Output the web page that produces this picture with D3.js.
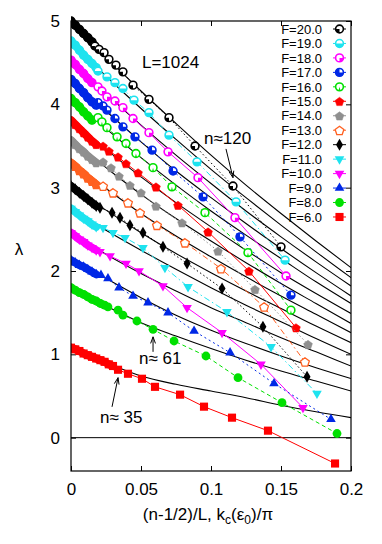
<!DOCTYPE html>
<html>
<head>
<meta charset="utf-8">
<script src="https://cdn.jsdelivr.net/npm/d3@7"></script>
<style>
body { margin: 0; background: #fff; }
svg { display: block; font-family: "Liberation Sans", Arial, sans-serif; }
</style>
</head>
<body>
<svg id="chart" width="382" height="544"></svg>
<script>
// series labels, top to bottom as in the key
const labels = ["F=20.0", "F=19.0", "F=18.0", "F=17.0", "F=16.0", "F=15.0", "F=14.0",
                "F=13.0", "F=12.0", "F=11.0", "F=10.0", "F=9.0", "F=8.0", "F=6.0"];

// dense small-n part of every series (lambda at denseX)
const denseX = [0, 0.003, 0.006, 0.009, 0.012, 0.015, 0.018, 0.021, 0.024, 0.027, 0.030];
const denseLambda = [
  [5.00, 4.95, 4.90, 4.85, 4.80, 4.75],
  [4.76, 4.71, 4.65, 4.59, 4.54, 4.49, 4.44],
  [4.53, 4.48, 4.42, 4.37, 4.31, 4.26],
  [4.30, 4.25, 4.19, 4.14, 4.08, 4.03, 3.99],
  [4.07, 4.02, 3.97, 3.91, 3.86, 3.81],
  [3.81, 3.76, 3.71, 3.66, 3.61, 3.56, 3.52],
  [3.57, 3.52, 3.47, 3.43, 3.38, 3.34, 3.30],
  [3.30, 3.26, 3.21, 3.17, 3.12, 3.08, 3.04],
  [3.02, 2.98, 2.94, 2.90, 2.86, 2.82, 2.78],
  [2.75, 2.71, 2.67, 2.63, 2.60, 2.56, 2.53],
  [2.46, 2.42, 2.38, 2.35, 2.31, 2.28, 2.25],
  [2.13, 2.10, 2.07, 2.05, 2.02, 1.99, 1.96],
  [1.80, 1.77, 1.74, 1.72, 1.69, 1.66, 1.64, 1.61, 1.59],
  [1.08, 1.06, 1.04, 1.01, 0.99, 0.97, 0.95, 0.93, 0.91, 0.88, 0.86]
];

// sparse points further out
const sparseX = [
  [0.0171, 0.020, 0.0236, 0.0271, 0.0321, 0.0371, 0.0443, 0.0557, 0.070, 0.0886, 0.1157, 0.150],
  [0.0193, 0.0257, 0.0314, 0.0371, 0.045, 0.0557, 0.070, 0.090, 0.1179, 0.1529],
  [0.0193, 0.0221, 0.0257, 0.0314, 0.0371, 0.0443, 0.0557, 0.0693, 0.0907, 0.1171, 0.1536],
  [0.0193, 0.0229, 0.0257, 0.0314, 0.0371, 0.0457, 0.0579, 0.0729, 0.0943, 0.1207, 0.1571],
  [0.0193, 0.0221, 0.0257, 0.0329, 0.0393, 0.0464, 0.0586, 0.0721, 0.0957, 0.1264, 0.1571],
  [0.0229, 0.0271, 0.0336, 0.0393, 0.0479, 0.0607, 0.0764, 0.0979, 0.1271, 0.1607],
  [0.0229, 0.0286, 0.0343, 0.0421, 0.050, 0.0607, 0.0793, 0.105, 0.1314, 0.1693],
  [0.0229, 0.030, 0.0407, 0.0493, 0.0614, 0.0814, 0.1071, 0.1379, 0.1671],
  [0.0207, 0.0293, 0.035, 0.0421, 0.0514, 0.0657, 0.0829, 0.1079, 0.1371, 0.1686],
  [0.0229, 0.030, 0.0386, 0.0514, 0.0671, 0.0836, 0.1114, 0.1429, 0.1757],
  [0.0207, 0.0279, 0.0393, 0.0486, 0.0657, 0.0829, 0.1079, 0.1357, 0.1657],
  [0.0214, 0.0264, 0.0343, 0.0443, 0.055, 0.0693, 0.0879, 0.1136, 0.145, 0.1857],
  [0.0264, 0.0336, 0.0371, 0.0471, 0.0586, 0.0736, 0.0964, 0.1193, 0.1507, 0.19],
  [0.0336, 0.0407, 0.0507, 0.060, 0.0779, 0.095, 0.115, 0.1407, 0.1886]
];
const sparseLambda = [
  [4.70, 4.66, 4.62, 4.54, 4.47, 4.39, 4.23, 4.06, 3.84, 3.50, 3.02, 2.29],
  [4.40, 4.33, 4.26, 4.19, 4.05, 3.90, 3.63, 3.31, 2.83, 2.13],
  [4.21, 4.16, 4.09, 4.04, 3.96, 3.83, 3.66, 3.43, 3.12, 2.64, 1.94],
  [4.02, 3.98, 3.93, 3.83, 3.73, 3.61, 3.45, 3.20, 2.89, 2.41, 1.71],
  [3.84, 3.79, 3.72, 3.61, 3.53, 3.41, 3.24, 3.01, 2.70, 2.22, 1.53],
  [3.50, 3.44, 3.37, 3.29, 3.18, 3.01, 2.79, 2.47, 2.00, 1.32],
  [3.31, 3.24, 3.14, 3.03, 2.94, 2.78, 2.58, 2.24, 1.78, 1.12],
  [3.02, 2.94, 2.82, 2.70, 2.55, 2.34, 2.03, 1.57, 0.91],
  [2.76, 2.70, 2.64, 2.55, 2.46, 2.29, 2.09, 1.79, 1.33, 0.73],
  [2.52, 2.46, 2.40, 2.28, 2.04, 1.81, 1.51, 1.09, 0.53],
  [2.23, 2.18, 2.09, 2.00, 1.82, 1.56, 1.26, 0.88, 0.36],
  [1.95, 1.91, 1.80, 1.70, 1.62, 1.50, 1.28, 1.02, 0.65, 0.22],
  [1.57, 1.53, 1.47, 1.40, 1.30, 1.16, 0.98, 0.72, 0.42, 0.05],
  [0.815, 0.767, 0.707, 0.61, 0.516, 0.372, 0.24, 0.084, -0.31]
];

// black theory curves
const theoryX = [0, 0.025, 0.05, 0.075, 0.1, 0.125, 0.15, 0.175, 0.2];
const theoryLambda = [
  [5.00, 4.57, 4.16, 3.77, 3.39, 3.03, 2.69, 2.36, 2.04],
  [4.76, 4.34, 3.95, 3.58, 3.22, 2.88, 2.55, 2.23, 1.92],
  [4.53, 4.13, 3.75, 3.39, 3.05, 2.72, 2.41, 2.11, 1.82],
  [4.30, 3.92, 3.55, 3.20, 2.88, 2.57, 2.27, 1.98, 1.70],
  [4.07, 3.71, 3.36, 3.03, 2.72, 2.43, 2.15, 1.87, 1.61],
  [3.81, 3.46, 3.13, 2.82, 2.53, 2.25, 1.98, 1.73, 1.49],
  [3.57, 3.24, 2.92, 2.63, 2.36, 2.10, 1.85, 1.61, 1.37],
  [3.30, 2.99, 2.69, 2.42, 2.17, 1.93, 1.70, 1.48, 1.26],
  [3.02, 2.73, 2.46, 2.21, 1.98, 1.76, 1.55, 1.34, 1.14],
  [2.75, 2.49, 2.25, 2.02, 1.80, 1.59, 1.39, 1.19, 1.00],
  [2.46, 2.20, 1.97, 1.76, 1.56, 1.38, 1.20, 1.03, 0.86],
  [2.13, 1.91, 1.68, 1.47, 1.29, 1.13, 0.98, 0.84, 0.71],
  [1.80, 1.58, 1.38, 1.22, 1.07, 0.93, 0.80, 0.68, 0.56],
  [1.08, 0.90, 0.74, 0.64, 0.56, 0.48, 0.39, 0.31, 0.24]
];

const xTicks = [0, 0.05, 0.1, 0.15, 0.2];
const yTicks = [0, 1, 2, 3, 4, 5];

// styles
const colors = ["#000000", "#1ee3ef", "#ff00ff", "#0028e6", "#00e000", "#ff0000", "#8f8f8f",
                "#ff6020", "#000000", "#1ee3ef", "#ff00ff", "#0028e6", "#00e000", "#ff0000"];
const dashes = ["1.5,2.5", "6,3,1.5,3", null, "2,3", "4,3", null, "1.5,2.5",
                "6,3,1.5,3", "1.5,2.5", "6,3,1.5,3", null, "2,3", "4,3", null];
const shapes = ["c1", "c2", "c3", "c4", "c5", "pentF", "pentF", "pentO", "diamond",
                "tdown", "tdown", "tup", "dot", "square"];

let width = 382, height = 544,
    margin = {left: 71, right: 31, top: 21, bottom: 73};

let svg = d3.select("#chart");

let x = d3.scaleLinear().domain([0, 0.2]).range([margin.left, width - margin.right]);
let y = d3.scaleLinear().domain([-0.4, 5]).range([height - margin.bottom, margin.top]);

svg.append("defs").append("clipPath").attr("id", "plotclip")
    .append("rect")
    .attr("x", x(0)).attr("y", y(5) - 6)
    .attr("width", x(0.2) - x(0)).attr("height", y(-0.4) - y(5) + 6);

// axes (ticks point inward, mirrored on top/right)
let gx = svg.append("g").attr("transform", `translate(0,${y(-0.4)})`)
    .call(d3.axisBottom(x).tickValues(xTicks).tickFormat(d => d).tickSize(-5).tickPadding(12));
let gy = svg.append("g").attr("transform", `translate(${x(0)},0)`)
    .call(d3.axisLeft(y).tickValues(yTicks).tickFormat(d3.format("d")).tickSize(-5).tickPadding(11));
svg.append("g").attr("transform", `translate(0,${y(5)})`)
    .call(d3.axisTop(x).tickValues(xTicks).tickFormat("").tickSize(-5));
svg.append("g").attr("transform", `translate(${x(0.2)},0)`)
    .call(d3.axisRight(y).tickValues(yTicks).tickFormat("").tickSize(-5));
svg.selectAll(".domain").remove();
svg.selectAll(".tick line").attr("stroke", "#000");
gx.selectAll("text").attr("font-size", 17).attr("font-family", "Liberation Sans, Arial, sans-serif").attr("fill", "#000");
gy.selectAll("text").attr("font-size", 17).attr("font-family", "Liberation Sans, Arial, sans-serif").attr("fill", "#000");

// zero line
svg.append("line")
    .attr("x1", x(0)).attr("x2", x(0.2)).attr("y1", y(0)).attr("y2", y(0))
    .attr("stroke", "#000").attr("stroke-width", 1);

let plot = svg.append("g").attr("clip-path", "url(#plotclip)");

// theory curves
let theoryLine = d3.line().x(d => x(d[0])).y(d => y(d[1])).curve(d3.curveMonotoneX);
theoryLambda.forEach(function (vals) {
    plot.append("path")
        .datum(vals.map((v, i) => [theoryX[i], v]))
        .attr("d", theoryLine)
        .attr("fill", "none")
        .attr("stroke", "#000")
        .attr("stroke-width", 1.1);
});

function marker(g, shape, color, solid) {
    if (shape[0] == "c") {
        g.append("circle").attr("r", 3.9).attr("fill", solid ? color : "#fff")
            .attr("stroke", color).attr("stroke-width", 1.6);
        let ang = {c1: [Math.PI, 1.5 * Math.PI], c2: [0.5 * Math.PI, 1.5 * Math.PI],
                   c3: [0.5 * Math.PI, Math.PI], c4: [0.5 * Math.PI, 2 * Math.PI],
                   c5: [0.92 * Math.PI, 1.08 * Math.PI]}[shape];
        g.append("path")
            .attr("d", d3.arc()({innerRadius: 0, outerRadius: 3.9, startAngle: ang[0], endAngle: ang[1]}))
            .attr("fill", color);
    } else if (shape == "pentF" || shape == "pentO") {
        let pts = d3.range(5).map(k => {
            let a = -Math.PI / 2 + k * 2 * Math.PI / 5;
            return [4.6 * Math.cos(a), 4.6 * Math.sin(a) + 0.6];
        });
        g.append("path").attr("d", "M" + pts.join("L") + "Z")
            .attr("fill", shape == "pentF" || solid ? color : "#fff")
            .attr("stroke", color).attr("stroke-width", shape == "pentF" ? 0.5 : 1.3);
    } else if (shape == "diamond") {
        g.append("path").attr("d", d3.symbol(d3.symbolDiamond, 42)()).attr("fill", color);
    } else if (shape == "tdown" || shape == "tup") {
        g.append("path").attr("d", d3.symbol(d3.symbolTriangle, 40)())
            .attr("transform", shape == "tdown" ? "rotate(180)" : null)
            .attr("fill", color);
    } else if (shape == "dot") {
        g.append("circle").attr("r", 4.4).attr("fill", color);
    } else if (shape == "square") {
        g.append("path").attr("d", d3.symbol(d3.symbolSquare, 66)()).attr("fill", color);
    }
}

let seriesLine = d3.line().x(d => x(d[0])).y(d => y(d[1]));

labels.forEach(function (lab, s) {
    let dense = denseLambda[s].map((v, i) => [denseX[i], v]);
    let sparse = sparseLambda[s].map((v, i) => [sparseX[s][i], v]);
    let g = plot.append("g");

    // thick band from the overlapping small-n points
    g.append("path").datum(dense).attr("d", seriesLine)
        .attr("fill", "none").attr("stroke", colors[s])
        .attr("stroke-width", 8).attr("stroke-linecap", "round");

    g.append("path").datum(dense.concat(sparse)).attr("d", seriesLine)
        .attr("fill", "none").attr("stroke", colors[s])
        .attr("stroke-width", 1)
        .attr("stroke-dasharray", dashes[s]);

    g.selectAll("g.dn").data(dense).enter().append("g")
        .attr("class", "dn")
        .attr("transform", d => `translate(${x(d[0])},${y(d[1])})`)
        .each(function () { marker(d3.select(this), shapes[s], colors[s], true); });

    g.selectAll("g.pt").data(sparse).enter().append("g")
        .attr("class", "pt")
        .attr("transform", d => `translate(${x(d[0])},${y(d[1])})`)
        .each(function () { marker(d3.select(this), shapes[s], colors[s], false); });
});

// frame
svg.append("rect")
    .attr("x", x(0)).attr("y", y(5))
    .attr("width", x(0.2) - x(0)).attr("height", y(-0.4) - y(5))
    .attr("fill", "none").attr("stroke", "#000").attr("stroke-width", 1.2);

// key
let legend = svg.append("g");
labels.forEach(function (lab, s) {
    let ly = 29 + s * 14.46;
    legend.append("text").attr("x", 322).attr("y", ly).attr("dy", "0.36em")
        .attr("text-anchor", "end").attr("font-size", 13).text(lab);
    legend.append("line").attr("x1", 333).attr("x2", 346).attr("y1", ly).attr("y2", ly)
        .attr("stroke", colors[s]).attr("stroke-width", 1);
    let m = legend.append("g").attr("transform", `translate(339.5,${ly})`);
    marker(m, shapes[s], colors[s], false);
});

// annotations
svg.append("text").attr("x", x(0.0507)).attr("y", y(4.44)).attr("font-size", 17).text("L=1024");
svg.append("text").attr("x", x(0.095)).attr("y", y(3.53)).attr("font-size", 17).text("n\u2248120");
svg.append("text").attr("x", x(0.0486)).attr("y", y(0.887)).attr("font-size", 17).text("n\u2248 61");
svg.append("text").attr("x", x(0.0207)).attr("y", y(0.18)).attr("font-size", 17).text("n\u2248 35");

function arrow(x0, y0, x1, y1) {
    let px0 = x(x0), py0 = y(y0), px1 = x(x1), py1 = y(y1);
    let a = Math.atan2(py1 - py0, px1 - px0), h = 7, w = 0.35;
    svg.append("line").attr("x1", px0).attr("y1", py0).attr("x2", px1).attr("y2", py1)
        .attr("stroke", "#000").attr("stroke-width", 1);
    svg.append("path")
        .attr("d", `M${px1 - h * Math.cos(a - w)},${py1 - h * Math.sin(a - w)}L${px1},${py1}L${px1 - h * Math.cos(a + w)},${py1 - h * Math.sin(a + w)}`)
        .attr("fill", "none").attr("stroke", "#000").attr("stroke-width", 1);
}
arrow(0.1107, 3.465, 0.1157, 3.12);
arrow(0.0586, 1.03, 0.0586, 1.21);
arrow(0.0293, 0.37, 0.0336, 0.72);

// axis titles
svg.append("text").attr("x", 19).attr("y", 255).attr("text-anchor", "middle")
    .attr("font-size", 17).text("\u03bb");

let xt = svg.append("text").attr("x", 208).attr("y", 520).attr("text-anchor", "middle")
    .attr("font-size", 17);
xt.append("tspan").text("(n-1/2)/L, k");
xt.append("tspan").attr("font-size", 12).attr("dy", 4).text("c");
xt.append("tspan").attr("dy", -4).text("(\u03b5");
xt.append("tspan").attr("font-size", 12).attr("dy", 4).text("0");
xt.append("tspan").attr("dy", -4).text(")/\u03c0");
</script>
</body>
</html>
